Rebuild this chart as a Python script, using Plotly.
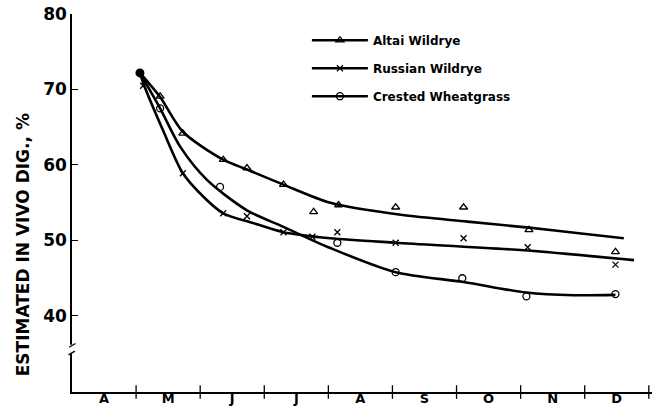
import plotly.graph_objects as go

# ---- data (months since 1 April; y = estimated in vivo digestibility, %) ----
months = ["A", "M", "J", "J", "A", "S", "O", "N", "D"]
month_centers = [0.5, 1.5, 2.5, 3.5, 4.5, 5.5, 6.5, 7.5, 8.5]
month_bounds = [1, 2, 3, 4, 5, 6, 7, 8, 9]
y_ticks = [40, 50, 60, 70, 80]

start_x = [1.06]
start_y = [72.2]

altai_curve_x = [1.06, 1.375, 1.73, 2.36, 2.73, 3.30, 4.03, 5.13, 6.17, 7.13, 7.98, 8.61]
altai_curve_y = [72.2, 69.0, 64.4, 60.7, 59.4, 57.4, 55.0, 53.4, 52.5, 51.7, 50.9, 50.3]
altai_obs_x = [1.375, 1.73, 2.36, 2.73, 3.30, 3.77, 4.16, 5.05, 6.11, 7.13, 8.48]
altai_obs_y = [69.1, 64.2, 60.7, 59.6, 57.4, 53.8, 54.7, 54.4, 54.4, 51.4, 48.5]

russian_curve_x = [1.06, 1.11, 1.42, 1.73, 2.05, 2.36, 2.83, 3.30, 4.03, 5.05, 7.05, 8.77]
russian_curve_y = [72.2, 70.9, 64.6, 58.9, 55.8, 53.6, 52.3, 51.1, 50.3, 49.7, 48.7, 47.4]
russian_obs_x = [1.11, 1.73, 2.36, 2.73, 3.30, 3.75, 4.14, 5.05, 6.11, 7.11, 8.48]
russian_obs_y = [70.5, 58.9, 53.6, 53.2, 51.1, 50.5, 51.1, 49.7, 50.3, 49.1, 46.8]

crested_curve_x = [1.06, 1.375, 1.69, 2.11, 2.73, 3.30, 4.03, 5.05, 6.11, 7.09, 7.83, 8.48]
crested_curve_y = [72.2, 67.5, 62.4, 58.0, 54.0, 51.8, 49.0, 45.8, 44.5, 43.1, 42.75, 42.8]
crested_obs_x = [1.375, 2.31, 4.14, 5.05, 6.09, 7.09, 8.48]
crested_obs_y = [67.5, 57.1, 49.7, 45.8, 45.0, 42.6, 42.9]

series = [
    ("Altai Wildrye", altai_curve_x, altai_curve_y, altai_obs_x, altai_obs_y, "triangle-up-open", 7),
    ("Russian Wildrye", russian_curve_x, russian_curve_y, russian_obs_x, russian_obs_y, "x-thin-open", 6),
    ("Crested Wheatgrass", crested_curve_x, crested_curve_y, crested_obs_x, crested_obs_y, "circle-open", 7),
]

FONT = "DejaVu Sans"
fig = go.Figure()

for i, (name, cx, cy, ox, oy, sym, sz) in enumerate(series):
    fig.add_trace(go.Scatter(
        x=cx, y=cy, mode="lines", line=dict(color="black", width=2.6, shape="spline", smoothing=0.8),
        showlegend=False, hoverinfo="skip"))
    fig.add_trace(go.Scatter(
        x=ox, y=oy, mode="markers",
        marker=dict(symbol=sym, size=sz, color="black", line=dict(color="black", width=1.3)),
        showlegend=False, name=name))
    # legend proxy
    fig.add_trace(go.Scatter(
        x=[None], y=[None], mode="lines+markers", name=name, legendgroup=f"g{i}",
        line=dict(color="black", width=2.6),
        marker=dict(symbol=sym, size=sz, color="black", line=dict(color="black", width=1.3))))

fig.add_trace(go.Scatter(x=start_x, y=start_y, mode="markers",
                         marker=dict(symbol="circle", size=9, color="black"),
                         showlegend=False))

shapes = []
# crossing ticks on the month axis
for b in month_bounds:
    shapes.append(dict(type="line", xref="x", yref="paper", x0=b, x1=b, y0=-0.018, y1=0.018,
                       line=dict(color="black", width=1.3)))
# axis break on the y axis
break_lo, break_hi = 35.0, 36.2
shapes.append(dict(type="rect", xref="paper", yref="y", x0=-0.01, x1=0.01, y0=break_lo, y1=break_hi,
                   fillcolor="white", line=dict(width=0), layer="above"))
shapes.append(dict(type="line", xref="paper", yref="y", x0=-0.005, x1=0.006, y0=break_hi - 0.35, y1=break_hi + 0.15,
                   line=dict(color="black", width=1.3)))
shapes.append(dict(type="line", xref="paper", yref="y", x0=-0.006, x1=0.005, y0=break_lo - 0.15, y1=break_lo + 0.35,
                   line=dict(color="black", width=1.3)))

fig.update_layout(
    width=660, height=407,
    margin=dict(l=72, r=8, t=14, b=15, autoexpand=False),
    paper_bgcolor="white", plot_bgcolor="white",
    font=dict(family=FONT, color="black"),
    shapes=shapes,
    showlegend=True,
    legend=dict(x=0.405, y=0.969, xanchor="left", yanchor="top",
                font=dict(family=FONT, size=12, color="black", weight="bold"),
                bgcolor="rgba(0,0,0,0)", tracegroupgap=9, itemwidth=56,
                traceorder="grouped"),
    xaxis=dict(range=[0, 9.05], showgrid=False, zeroline=False, showline=True, linecolor="black", linewidth=1.5,
               tickmode="array", tickvals=month_centers, ticktext=months, ticks="", automargin=False,
               ticklabelstandoff=-6, ticklabeloverflow="allow",
               tickfont=dict(family=FONT, size=13, color="black", weight="bold")),
    yaxis=dict(range=[29.93, 80], showgrid=False, zeroline=False, showline=True, linecolor="black", linewidth=1.5,
               tickmode="array", tickvals=y_ticks, ticks="inside", ticklen=6, tickwidth=1.3, tickcolor="black",
               automargin=False, ticklabeloverflow="allow",
               tickfont=dict(family=FONT, size=17, color="black", weight="bold")),
    annotations=[dict(text="ESTIMATED IN VIVO DIG., %", textangle=-90, xref="paper", yref="paper",
                      x=-0.085, y=0.39, xanchor="center", yanchor="middle", showarrow=False,
                      font=dict(family=FONT, size=17, color="black", weight="bold"))],
)

# remove the page's default 8px body margin so the 660x407 figure fills the window
fig.write_html("out.html",
               config={"displayModeBar": False},
               post_script="document.body.style.margin='0';document.body.style.overflow='hidden';")
